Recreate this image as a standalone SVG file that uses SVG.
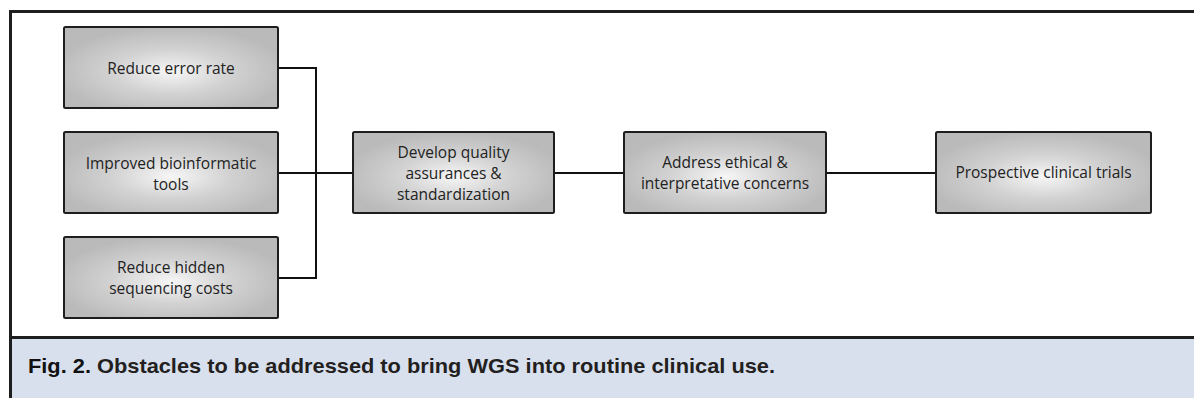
<svg xmlns="http://www.w3.org/2000/svg" width="1194" height="398" viewBox="0 0 1194 398">
  <defs>
    <radialGradient id="boxFill" cx="50%" cy="55%" r="55%">
      <stop offset="0" stop-color="#f6f6f6"/>
      <stop offset="0.5" stop-color="#d2d2d2"/>
      <stop offset="1" stop-color="#bababa"/>
    </radialGradient>
    <style>
      .box { fill: url(#boxFill); stroke: #1e1e1e; stroke-width: 2; }
      .lbl { font-family: "Open Sans", "Liberation Sans", sans-serif; font-size: 15.5px; fill: #222; text-anchor: middle; dominant-baseline: central; }
      .wire { fill: none; stroke: #111; stroke-width: 2; }
      .cap { font-family: "Liberation Sans", "DejaVu Sans", sans-serif; font-weight: bold; font-size: 21px; fill: #231f20; }
    </style>
  </defs>

  <!-- frame and caption band -->
  <rect x="0" y="0" width="1194" height="398" fill="#ffffff"/>
  <rect x="11" y="338" width="1183" height="60" fill="#d8e0ee"/>
  <line x1="10" y1="11.5" x2="1194" y2="11.5" stroke="#1e1e1e" stroke-width="3"/>
  <line x1="10.5" y1="10" x2="10.5" y2="398" stroke="#1e1e1e" stroke-width="3"/>
  <line x1="10" y1="337.5" x2="1194" y2="337.5" stroke="#1e1e1e" stroke-width="3"/>

  <!-- connectors -->
  <g id="connectors">
    <polyline class="wire" points="278,68 316,68 316,278 278,278"/>
    <line class="wire" x1="278" y1="173" x2="353" y2="173"/>
    <line class="wire" x1="554" y1="173" x2="624" y2="173"/>
    <line class="wire" x1="826" y1="173" x2="936" y2="173"/>
  </g>

  <g id="node-error-rate">
    <rect class="box" x="64" y="27" width="214" height="81" rx="1.5"/>
    <text class="lbl" x="171" y="68">Reduce error rate</text>
  </g>

  <g id="node-bioinformatic">
    <rect class="box" x="64" y="132" width="214" height="81" rx="1.5"/>
    <text class="lbl" x="171" y="163">Improved bioinformatic</text>
    <text class="lbl" x="171" y="184">tools</text>
  </g>

  <g id="node-hidden-costs">
    <rect class="box" x="64" y="237" width="214" height="81" rx="1.5"/>
    <text class="lbl" x="171" y="267">Reduce hidden</text>
    <text class="lbl" x="171" y="288">sequencing costs</text>
  </g>

  <g id="node-quality">
    <rect class="box" x="353" y="132" width="201" height="81" rx="1.5"/>
    <text class="lbl" x="453.5" y="152">Develop quality</text>
    <text class="lbl" x="453.5" y="173">assurances &amp;</text>
    <text class="lbl" x="453.5" y="194">standardization</text>
  </g>

  <g id="node-ethical">
    <rect class="box" x="624" y="132" width="202" height="81" rx="1.5"/>
    <text class="lbl" x="725" y="162">Address ethical &amp;</text>
    <text class="lbl" x="725" y="183">interpretative concerns</text>
  </g>

  <g id="node-trials">
    <rect class="box" x="936" y="132" width="215" height="81" rx="1.5"/>
    <text class="lbl" x="1043.5" y="172">Prospective clinical trials</text>
  </g>

  <!-- caption -->
  <text class="cap" x="28" y="373" textLength="747" lengthAdjust="spacingAndGlyphs"><tspan fill="#111">Fig. 2.</tspan>  Obstacles to be addressed to bring WGS into routine clinical use.</text>
</svg>
